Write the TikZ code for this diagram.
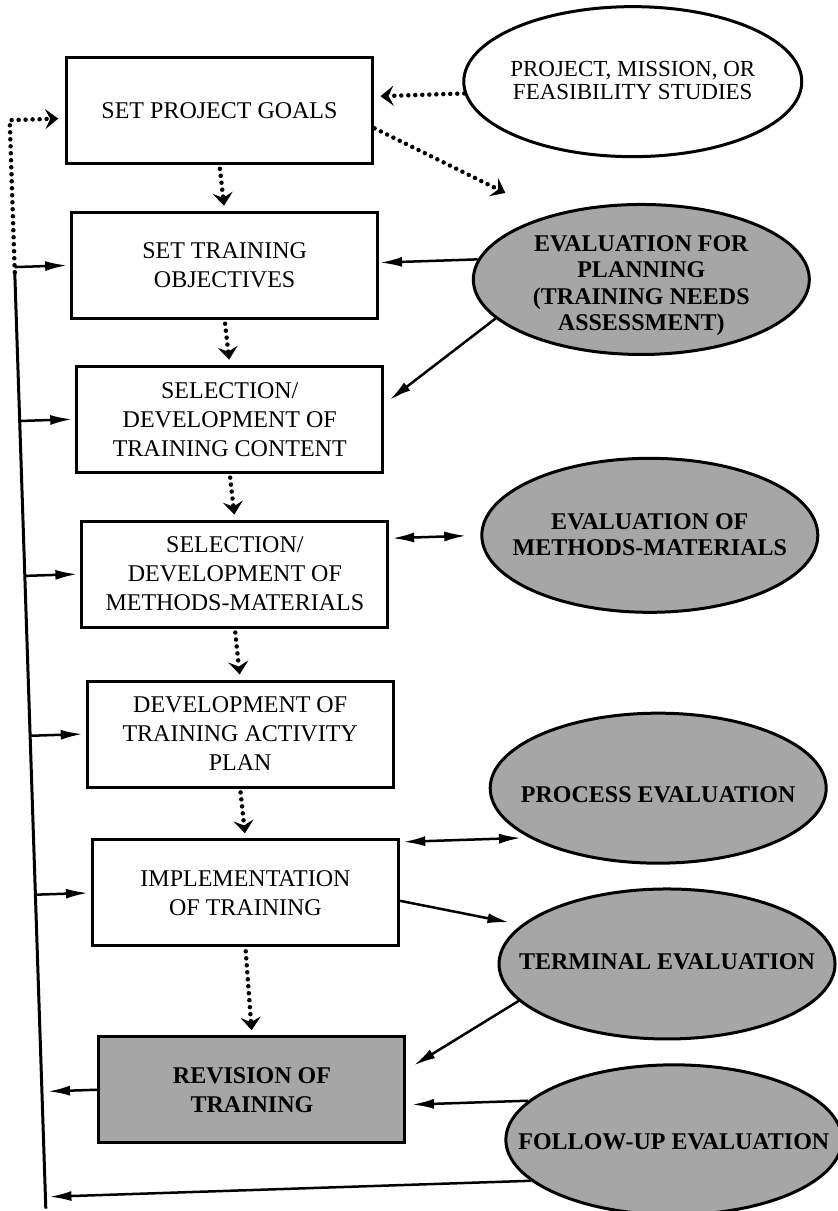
\documentclass[tikz,border=0pt]{standalone}
\usepackage{fontspec}
\setmainfont{Liberation Serif}
\usetikzlibrary{arrows.meta, shapes.geometric, positioning}

% text of an oval, kept out of the oval's size (optional: move it down)
\newcommand{\evtxt}[2][0pt]{\raisebox{-#1}[\height][\depth]{\makebox[0pt]{\begin{tabular}{@{}c@{}}#2\end{tabular}}}}

\begin{document}
\begin{tikzpicture}[x=1pt, y=-1pt, >={Latex[length=22pt,width=10pt]},
		box/.style={draw, line width=3pt, minimum width=306pt, minimum height=106pt,
				align=center, inner sep=0pt, font=\fontsize{24}{29}\selectfont},
		shaded/.style={fill=black!35, font=\fontsize{24}{29}\selectfont\bfseries},
		oval/.style={draw, ellipse, line width=3pt, minimum width=336pt, minimum height=150pt,
				inner sep=0pt, fill=black!35, font=\fontsize{24}{26.5}\selectfont\bfseries},
		flow/.style={line width=4.5pt, line cap=round, dash pattern=on 0pt off 7pt,
				-{Stealth[length=13pt,width=20pt,inset=5pt]}},
		link/.style={line width=2.5pt, ->},
		both/.style={line width=2.5pt, <->}]

	\useasboundingbox (0,0) rectangle (838,1211);

	\begin{scope}[rotate around={1.9:(419,605)}]

		% steps of the training
		\node[box] (goals) at (236,104) {SET PROJECT GOALS};
		\node[box] (objectives) at (236,259) {SET TRAINING\\OBJECTIVES};
		\node[box] (content) at (236,413) {SELECTION/\\DEVELOPMENT OF\\TRAINING CONTENT};
		\node[box] (methods) at (236,568) {SELECTION/\\DEVELOPMENT OF\\METHODS-MATERIALS};
		\node[box] (actplan) at (236,728) {DEVELOPMENT OF\\TRAINING ACTIVITY\\PLAN};
		\node[box] (impl) at (236,887) {IMPLEMENTATION\\OF TRAINING};
		\node[box, shaded] (revision) at (236,1084) {REVISION OF\\TRAINING};

		% evaluations
		\node[oval, fill=white, minimum width=338pt, font=\fontsize{23}{23}\selectfont] (feas) at (650,89)
			{\evtxt[2pt]{PROJECT, MISSION, OR\\FEASIBILITY STUDIES}};
		\node[oval] (evalplan) at (652,287) {\evtxt[6pt]{EVALUATION FOR\\PLANNING\\(TRAINING NEEDS\\ASSESSMENT)}};
		\node[oval, minimum height=154pt] (evalmeth) at (652,543) {\evtxt[2pt]{EVALUATION OF\\METHODS-MATERIALS}};
		\node[oval] (processev) at (652,796) {\evtxt[9pt]{PROCESS EVALUATION}};
		\node[oval] (termev) at (655,972) {\evtxt{TERMINAL EVALUATION}};
		\node[oval] (followev) at (656,1148) {\evtxt[4pt]{FOLLOW-UP EVALUATION}};

		\coordinate (trunktop) at (26,259);
		\coordinate (trunkbot) at (26,1196);
		\coordinate (toplan) at (519,196);

		% dotted flow down the steps
		\foreach \a/\b in {goals/objectives, objectives/content, content/methods,
				methods/actplan, actplan/impl, impl/revision}
			\draw[flow, shorten <=4pt, shorten >=5pt] (\a.south) -- (\b.north);

		\draw[flow, shorten >=7pt] (feas.184) -- (feas.184 -| goals.east);
		\draw[flow] ([yshift=-18pt]goals.east) -- (toplan);
		\draw[flow, shorten >=7pt] (trunktop) |- ([yshift=-8pt]goals.west);

		% feedback line on the left
		\draw[line width=3pt] (trunktop) -- (trunkbot);
		\foreach \b in {objectives, content, methods, actplan, impl}
			\draw[link, shorten >=3pt] (\b.west -| trunktop) -- (\b.west);
		\draw[link, shorten >=6pt] (revision.west) -- (revision.west -| trunktop);
		\draw[link, shorten >=4pt] (followev.196) -- (followev.196 -| trunkbot);

		% evaluations to the steps
		\draw[link, shorten >=1pt] (evalplan.173) -- (evalplan.173 -| objectives.east);
		\draw[link] (evalplan.195) -- ([xshift=6pt, yshift=19pt]content.east);
		\draw[both, shorten <=4pt, shorten >=14pt] (evalmeth.west -| methods.east) -- (evalmeth.west);
		\draw[both, shorten <=5pt, shorten >=8pt] (processev.201 -| impl.east) -- (processev.201);
		\draw[link, shorten >=12pt] ([yshift=-8pt]impl.east) -- (termev.165);
		\draw[link] (termev.194) -- ([xshift=8pt, yshift=24pt]revision.east);
		\draw[link, shorten >=5pt] (followev.165) -- (followev.165 -| revision.east);

	\end{scope}
\end{tikzpicture}
\end{document}
